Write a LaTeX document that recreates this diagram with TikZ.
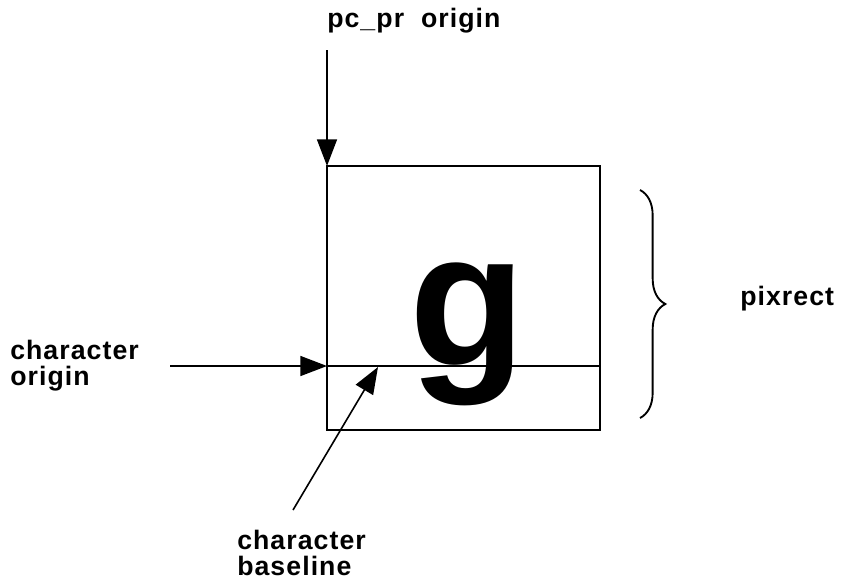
\documentclass[tikz,border=0pt]{standalone}
\usepackage{fontspec}
\setmainfont{Liberation Sans}
\newfontfamily\lblfont[LetterSpace=4]{Liberation Sans Bold}
\usetikzlibrary{arrows.meta, positioning, decorations.pathreplacing}

\tikzset{
  lbl/.style={font=\lblfont\fontsize{20}{19}\selectfont, align=left, inner sep=0pt},
  ptr/.style={line width=1.2pt, -{Triangle[length=20pt, width=15pt]}},
  thin box/.style={draw, line width=0.9pt, inner sep=0pt, outer sep=0pt}
}

\begin{document}
\begin{tikzpicture}[x=0.75pt, y=-0.75pt]
  \useasboundingbox (0,0) rectangle (842,579);

  % Pixrect box and glyph
  \node[thin box, minimum width=204.75pt, minimum height=198pt, anchor=north west]
       (box) at (327,166) {};
  \node[font=\fontsize{143}{143}\selectfont\bfseries, inner sep=0pt, anchor=base]
       (glyph) at (468,365) {g};

  % Labels
  \node[lbl, anchor=base west] (prlbl) at (327,27) {pc\_pr\ \ origin};
  \node[lbl, anchor=base west] (orglbl) at (10,385) {character\\origin};
  \node[lbl, anchor=base west] (bllbl) at (237,575) {character\\baseline};
  \node[lbl, anchor=base west] (pixlbl) at (740,305) {pixrect};

  % pc_pr origin arrow
  \coordinate (prtail) at (327,50);
  \draw[ptr] (prtail) -- (box.north west);

  % Character origin and baseline
  \coordinate (orgtail) at (170,366);
  \coordinate (orgpt) at (327,366);
  \draw[line width=0.9pt] (orgpt) -- (orgpt -| box.east);
  \draw[ptr] (orgtail) -- (orgpt);
  \coordinate (bltail) at (293,510);
  \coordinate (blpt) at (378,367);
  \draw[ptr] (bltail) -- (blpt);

  % Brace
  \coordinate (brtop) at (640,190);
  \coordinate (brbot) at (640,418);
  \draw[decorate, decoration={brace, amplitude=19pt}, line width=1.4pt] (brtop) -- (brbot);
\end{tikzpicture}
\end{document}
